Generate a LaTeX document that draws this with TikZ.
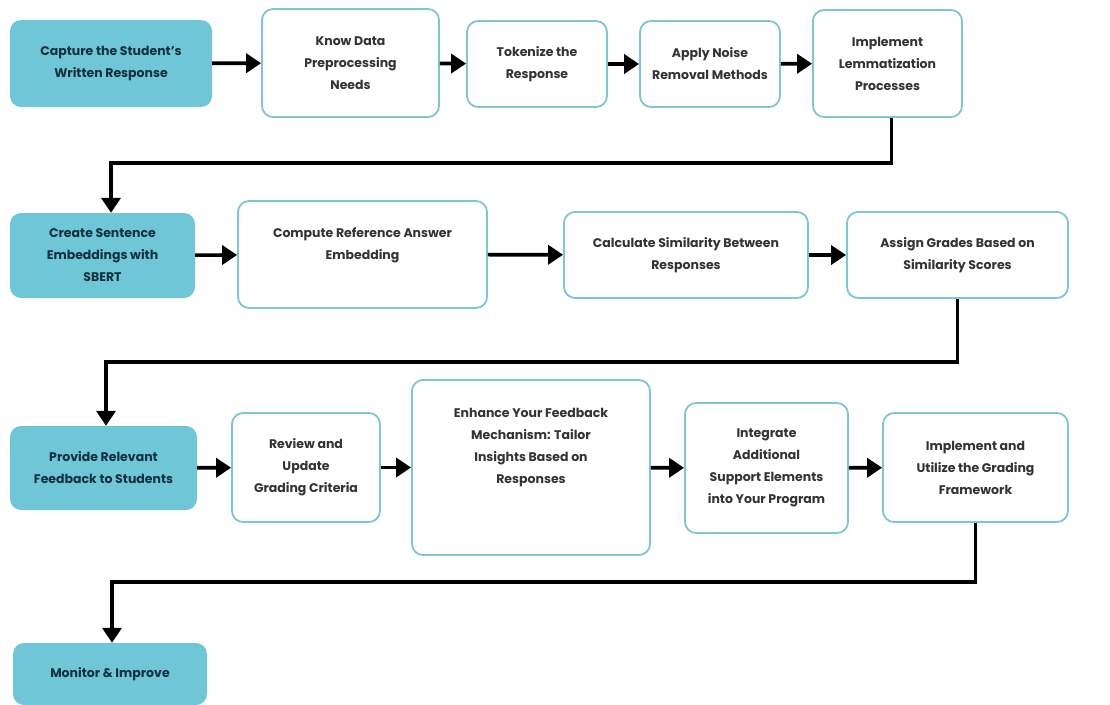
\documentclass[tikz,border=0pt]{standalone}
\usepackage{fontspec}
\setmainfont{Poppins}
\usetikzlibrary{arrows.meta}
\definecolor{tealfill}{HTML}{6EC6D6}
\definecolor{tealedge}{HTML}{7EC6D0}
\definecolor{darkink}{HTML}{13303F}
\definecolor{greyink}{HTML}{333333}
\begin{document}
\begin{tikzpicture}[x=1pt, y=-1pt,
    base/.style={rounded corners=11pt, align=center, font=\fontsize{12.5}{22}\selectfont\bfseries, inner sep=0pt},
    startbox/.style={base, fill=tealfill, text=darkink},
    stepbox/.style={base, draw=tealedge, line width=1.8pt, fill=white, text=greyink},
    flow/.style={line width=3.6pt, -{Triangle[length=15pt,width=19pt]}}]

	\useasboundingbox (0,0) rectangle (1110,704);

	% first row
	\node[startbox, minimum width=202pt, minimum height=87pt] (capture) at (111,63.5) {Capture the Student's\\Written Response};
	\node[stepbox, minimum width=177pt, minimum height=108pt] (needs) at (350.5,63) {Know Data\\Preprocessing\\Needs};
	\node[stepbox, minimum width=140pt, minimum height=86pt] (token) at (537,64) {Tokenize the\\Response};
	\node[stepbox, minimum width=140pt, minimum height=86pt] (noise) at (710,64) {Apply Noise\\Removal Methods};
	\node[stepbox, minimum width=149pt, minimum height=107pt] (lemma) at (887.5,63.5) {Implement\\Lemmatization\\Processes};

	% second row
	\node[startbox, minimum width=185pt, minimum height=85pt] (embed) at (102.5,255.5) {Create Sentence\\Embeddings with\\SBERT};
	\node[stepbox, minimum width=249pt, minimum height=107pt] (refans) at (362.5,254.5) {Compute Reference Answer\\Embedding\\\mbox{}};
	\node[stepbox, minimum width=244pt, minimum height=86pt] (simil) at (686,255) {Calculate Similarity Between\\Responses};
	\node[stepbox, minimum width=221pt, minimum height=86pt] (grades) at (957.5,255) {Assign Grades Based on\\Similarity Scores};

	% third row
	\node[startbox, minimum width=187pt, minimum height=84pt] (feedback) at (103.5,468) {Provide Relevant\\Feedback to Students};
	\node[stepbox, minimum width=148pt, minimum height=109pt] (review) at (306,467.5) {Review and\\Update\\Grading Criteria};
	\node[stepbox, minimum width=238pt, minimum height=175pt] (enhance) at (531,467.5) {Enhance Your Feedback\\Mechanism: Tailor\\Insights Based on\\Responses\\[21pt]\mbox{}};
	\node[stepbox, minimum width=163pt, minimum height=130pt] (support) at (766.5,468) {Integrate\\Additional\\Support Elements\\into Your Program};
	\node[stepbox, minimum width=185pt, minimum height=109pt] (utilize) at (975.5,467.5) {Implement and\\Utilize the Grading\\Framework};

	% last row
	\node[startbox, minimum width=194pt, minimum height=62pt] (monitor) at (110,674) {Monitor \& Improve};

	\coordinate (turnA) at (111,163);
	\coordinate (turnB) at (106,362);
	\coordinate (turnC) at (112,582);

	\draw[flow] (capture) -- (needs);
	\draw[flow] (needs) -- (token);
	\draw[flow] (token) -- (noise);
	\draw[flow] (noise) -- (lemma);
	\draw[flow] ([xshift=4pt]lemma.south) |- (turnA) -- (turnA |- embed.north);

	\draw[flow] (embed) -- (refans);
	\draw[flow] (refans) -- (simil);
	\draw[flow] (simil) -- (grades);
	\draw[flow] (grades.south) |- (turnB) -- (turnB |- feedback.north);

	\draw[flow] (feedback) -- (review);
	\draw[flow] (review) -- (enhance);
	\draw[flow] (enhance) -- (support);
	\draw[flow] (support) -- (utilize);
	\draw[flow] (utilize.south) |- (turnC) -- (turnC |- monitor.north);

\end{tikzpicture}
\end{document}
